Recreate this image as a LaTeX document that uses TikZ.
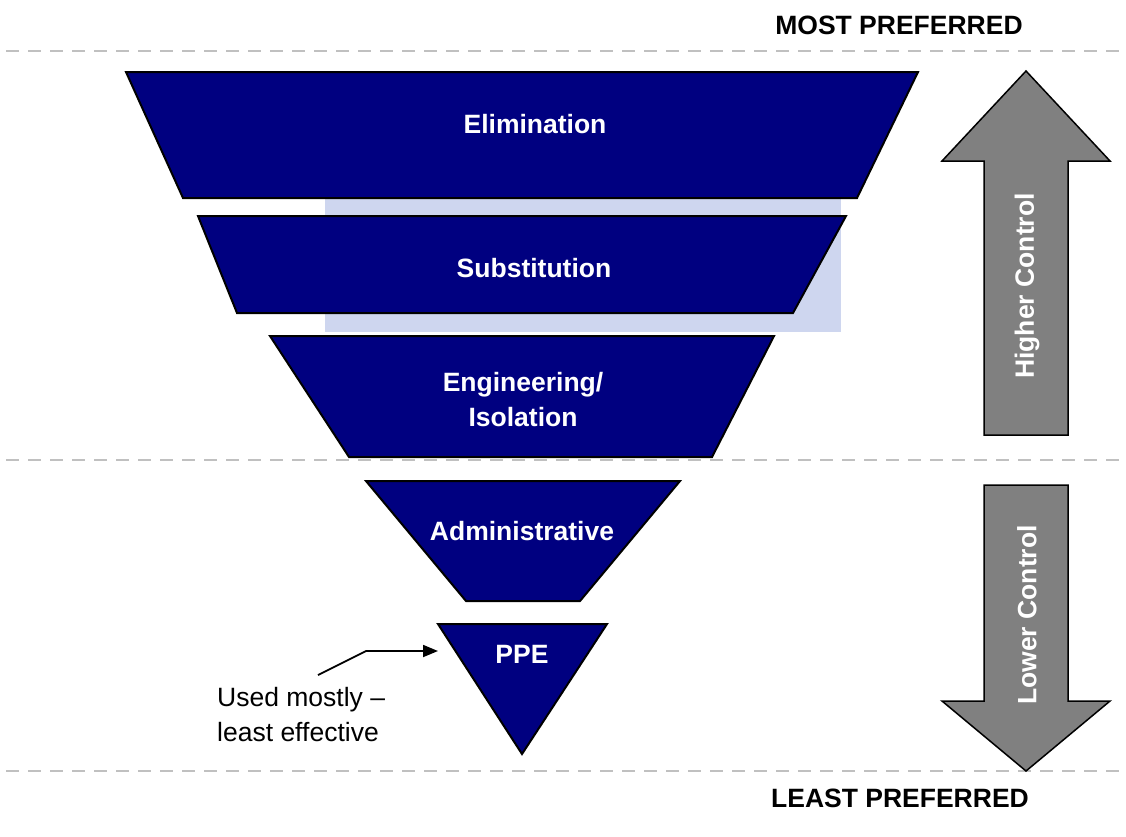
\documentclass[tikz,border=0pt]{standalone}
\usepackage{fontspec}
\setmainfont{Liberation Sans}
\usetikzlibrary{arrows.meta}
\definecolor{navyblk}{HTML}{000080}
\definecolor{dashgray}{HTML}{C0C0C0}
\definecolor{lavender}{HTML}{CED6EF}
\definecolor{arrgray}{HTML}{808080}
\tikzset{
  level/.style={fill=navyblk, draw=black, line width=2pt, line join=miter},
  lbl/.style={text=white, font=\fontsize{26.5}{35}\selectfont\bfseries, align=center, inner sep=0pt},
  sidetxt/.style={text=black, font=\fontsize{26.5}{35}\selectfont\bfseries, inner sep=0pt},
  blockarrow/.style={fill=arrgray, draw=black, line width=1.5pt},
  divider/.style={draw=dashgray, line width=2.2pt, dash pattern=on 13pt off 9pt},
  annot/.style={text=black, font=\fontsize{26.5}{35}\selectfont, align=left, inner sep=0pt},
  pointer/.style={draw=black, line width=1.8pt, -{Triangle[length=15pt,width=12pt]}}
}
\begin{document}
\begin{tikzpicture}[x=1pt, y=-1pt]
\useasboundingbox (0,0) rectangle (1126,836);
% watermark panel
\fill[lavender] (325,150) rectangle (841,332);
% dividers
\coordinate (d1l) at (6,51); \coordinate (d1r) at (1126,51);
\coordinate (d2l) at (6,460); \coordinate (d2r) at (1126,460);
\coordinate (d3l) at (6,771); \coordinate (d3r) at (1126,771);
\draw[divider] (d1l) -- (d1r);
\draw[divider] (d2l) -- (d2r);
\draw[divider] (d3l) -- (d3r);
% levels
\draw[level] (126,72) -- (918,72) -- (857,198) -- (183,198) -- cycle;
\draw[level] (198,216) -- (846,216) -- (793,313) -- (237,313) -- cycle;
\draw[level] (270,336) -- (774,336) -- (712,457) -- (349,457) -- cycle;
\draw[level] (366,481) -- (680,481) -- (580,601) -- (466,601) -- cycle;
\draw[level] (438,624) -- (607,624) -- (522,754) -- cycle;
\node[lbl] (elim) at (535,124) {Elimination};
\node[lbl] (subst) at (534,268) {Substitution};
\node[lbl] (eng) at (523,400) {Engineering/\\Isolation};
\node[lbl] (admin) at (522,531) {Administrative};
\node[lbl] (ppe) at (522,654) {PPE};
% side labels
\node[sidetxt] (most) at (899,25) {MOST PREFERRED};
\node[sidetxt] (least) at (900,798) {LEAST PREFERRED};
% block arrows
\draw[blockarrow] (1026,71) -- (1110,161) -- (1068,161) -- (1068,435) -- (984,435) -- (984,161) -- (942,161) -- cycle;
\draw[blockarrow] (984,485) -- (1068,485) -- (1068,701) -- (1110,701) -- (1026,771) -- (942,701) -- (984,701) -- cycle;
\node[lbl, rotate=90] (higher) at (1027,286) {Higher Control};
\node[lbl, rotate=90] (lower) at (1027,615) {Lower Control};
% annotation
\node[annot, anchor=west] (note) at (217,715) {Used mostly --\\least effective};
\coordinate (notetip) at (318,675);
\coordinate (bend) at (366,651);
\coordinate (ppeleft) at (438,651);
\draw[pointer] (notetip) -- (bend) -- (ppeleft);
\end{tikzpicture}
\end{document}
